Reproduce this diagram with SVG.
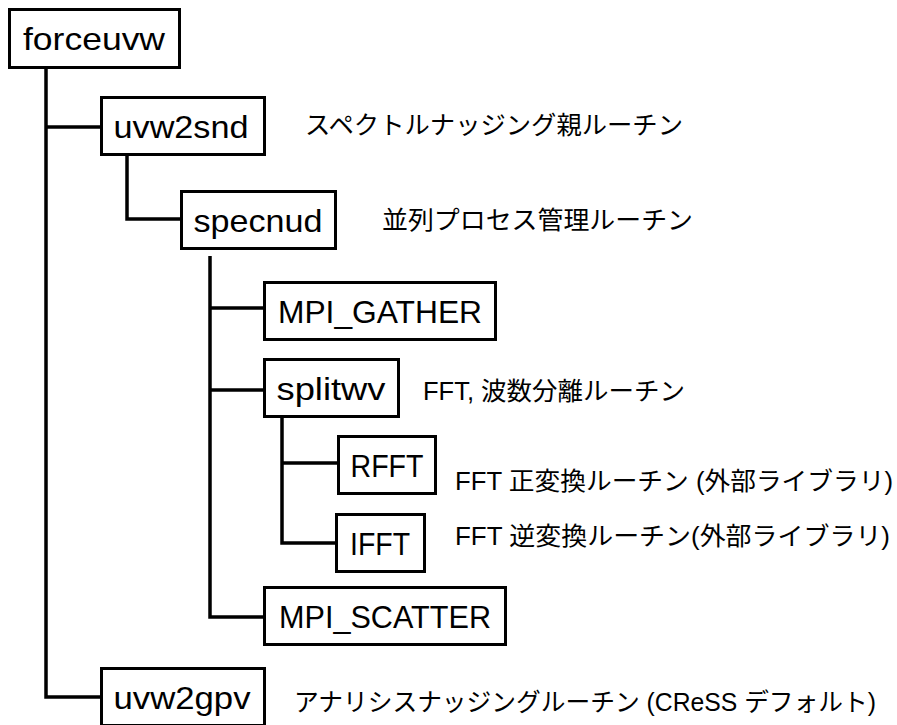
<svg xmlns="http://www.w3.org/2000/svg" width="897" height="725" viewBox="0 0 897 725">
<style>
.box rect{fill:#fff;stroke:#000;stroke-width:3}
.box text{font-family:"Liberation Sans",Arial,sans-serif;font-size:32px;fill:#000;text-anchor:middle}
.lbl{font-family:"Liberation Sans","Noto Sans CJK JP",sans-serif;font-size:25px;fill:#000}
#connectors path{fill:none;stroke:#000;stroke-width:3.5}
</style>
<rect width="897" height="725" fill="#fff"/>
<g id="connectors">
<path d="M46,68 V697 H101"/>
<path d="M46,127 H101"/>
<path d="M127,155 V219 H181"/>
<path d="M210,256 V617 H264"/>
<path d="M210,308 H264"/>
<path d="M210,390 H264"/>
<path d="M282,418 V543 H336"/>
<path d="M282,463 H338"/>
</g>
<g id="forceuvw" class="box"><rect x="9.5" y="9.5" width="170" height="58"/><text x="94" y="50" textLength="142" lengthAdjust="spacingAndGlyphs">forceuvw</text></g>
<g id="uvw2snd" class="box"><rect x="101.5" y="97.5" width="163" height="57"/><text x="181" y="138" textLength="135" lengthAdjust="spacingAndGlyphs">uvw2snd</text></g>
<g id="specnud" class="box"><rect x="181.5" y="191.5" width="154" height="57"/><text x="258" y="232" textLength="129" lengthAdjust="spacingAndGlyphs">specnud</text></g>
<g id="mpi_gather" class="box"><rect x="264.5" y="282.5" width="231" height="57"/><text x="380" y="323" textLength="204" lengthAdjust="spacingAndGlyphs">MPI_GATHER</text></g>
<g id="splitwv" class="box"><rect x="264.5" y="359.5" width="134" height="57"/><text x="331" y="400" textLength="109" lengthAdjust="spacingAndGlyphs">splitwv</text></g>
<g id="rfft" class="box"><rect x="338.5" y="436.5" width="97" height="57"/><text x="387" y="477" textLength="73" lengthAdjust="spacingAndGlyphs">RFFT</text></g>
<g id="ifft" class="box"><rect x="336.5" y="514.5" width="88" height="57"/><text x="380" y="555" textLength="60" lengthAdjust="spacingAndGlyphs">IFFT</text></g>
<g id="mpi_scatter" class="box"><rect x="264.5" y="587.5" width="241" height="57"/><text x="385" y="628" textLength="212" lengthAdjust="spacingAndGlyphs">MPI_SCATTER</text></g>
<g id="uvw2gpv" class="box"><rect x="101.5" y="668.5" width="163" height="57"/><text x="182" y="709" textLength="137" lengthAdjust="spacingAndGlyphs">uvw2gpv</text></g>
<g id="labels">
<text class="lbl" x="305" y="134" textLength="378" lengthAdjust="spacingAndGlyphs">スペクトルナッジング親ルーチン</text>
<text class="lbl" x="382" y="229" textLength="311" lengthAdjust="spacingAndGlyphs">並列プロセス管理ルーチン</text>
<text class="lbl" x="423" y="400" textLength="262" lengthAdjust="spacingAndGlyphs">FFT, 波数分離ルーチン</text>
<text class="lbl" x="455" y="490" textLength="438" lengthAdjust="spacingAndGlyphs">FFT 正変換ルーチン (外部ライブラリ)</text>
<text class="lbl" x="455" y="545" textLength="435" lengthAdjust="spacingAndGlyphs">FFT 逆変換ルーチン(外部ライブラリ)</text>
<text class="lbl" x="294" y="711" textLength="582" lengthAdjust="spacingAndGlyphs">アナリシスナッジングルーチン (CReSS デフォルト)</text>
</g>
</svg>
